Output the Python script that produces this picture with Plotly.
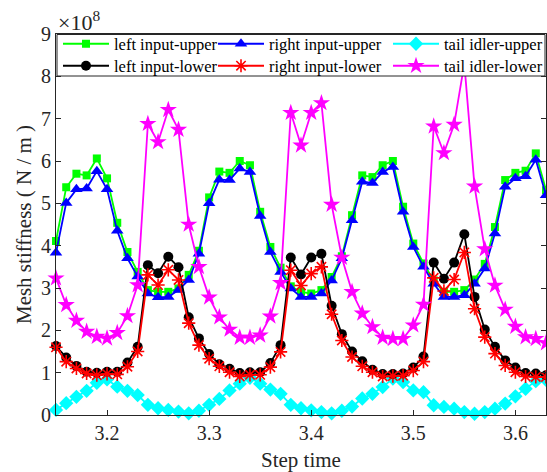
import plotly.graph_objects as go

# Step time (s)
step_time = [3.15, 3.16, 3.17, 3.18, 3.19, 3.20, 3.21, 3.22, 3.23, 3.24,
             3.25, 3.26, 3.27, 3.28, 3.29, 3.30, 3.31, 3.32, 3.33, 3.34,
             3.35, 3.36, 3.37, 3.38, 3.39, 3.40, 3.41, 3.42, 3.43, 3.44,
             3.45, 3.46, 3.47, 3.48, 3.49, 3.50, 3.51, 3.52, 3.53, 3.54,
             3.55, 3.56, 3.57, 3.58, 3.59, 3.60, 3.61, 3.62, 3.63]

# Mesh stiffness in units of 1e8 N/m
left_input_upper = [4.11, 5.38, 5.70, 5.66, 6.06, 5.59, 4.54, 3.85, 3.38, 2.95,
                    2.91, 2.91, 2.99, 3.31, 3.88, 5.14, 5.75, 5.72, 6.00, 5.90,
                    4.80, 3.97, 3.48, 3.04, 2.91, 2.87, 2.95, 3.26, 3.75, 4.72,
                    5.66, 5.62, 5.90, 6.00, 4.92, 4.05, 3.58, 3.18, 2.91, 2.91,
                    2.95, 3.20, 3.57, 4.44, 5.55, 5.72, 5.77, 6.18, 5.31]
right_input_upper = [3.83, 5.01, 5.33, 5.35, 5.76, 5.33, 4.35, 3.70, 3.27, 2.87,
                     2.78, 2.79, 2.95, 3.19, 3.81, 5.00, 5.56, 5.55, 5.82, 5.74,
                     4.70, 3.85, 3.38, 2.99, 2.79, 2.79, 2.87, 3.18, 3.70, 4.60,
                     5.51, 5.48, 5.74, 5.86, 4.80, 3.97, 3.50, 3.10, 2.79, 2.79,
                     2.83, 3.10, 3.46, 4.29, 5.39, 5.59, 5.64, 6.03, 5.19]
tail_idler_upper = [0.12, 0.28, 0.43, 0.57, 0.76, 0.84, 0.67, 0.57, 0.47, 0.24,
                    0.16, 0.12, 0.08, 0.04, 0.10, 0.24, 0.38, 0.58, 0.74, 0.88,
                    0.74, 0.60, 0.50, 0.24, 0.16, 0.11, 0.07, 0.04, 0.10, 0.20,
                    0.39, 0.50, 0.66, 0.86, 0.78, 0.58, 0.54, 0.23, 0.19, 0.15,
                    0.07, 0.03, 0.07, 0.15, 0.27, 0.44, 0.62, 0.80, 0.83]
left_input_lower = [1.63, 1.36, 1.16, 1.02, 1.00, 1.02, 1.02, 1.24, 1.61, 3.54,
                    3.35, 3.74, 3.49, 2.31, 1.81, 1.44, 1.20, 1.09, 0.99, 1.01,
                    1.01, 1.23, 1.65, 3.72, 3.32, 3.72, 3.81, 2.58, 1.91, 1.50,
                    1.27, 1.07, 0.97, 0.97, 0.98, 1.12, 1.38, 3.60, 3.22, 3.60,
                    4.27, 2.79, 2.02, 1.61, 1.29, 1.12, 0.99, 0.98, 0.94]
right_input_lower = [1.60, 1.26, 1.10, 0.98, 0.94, 0.97, 0.96, 1.14, 1.50, 3.31,
                     3.07, 3.43, 3.19, 2.17, 1.65, 1.33, 1.15, 1.01, 0.91, 0.95,
                     0.95, 1.13, 1.49, 3.42, 3.06, 3.34, 3.50, 2.38, 1.76, 1.37,
                     1.15, 1.01, 0.91, 0.92, 0.93, 1.05, 1.26, 3.24, 2.93, 3.20,
                     3.84, 2.51, 1.84, 1.45, 1.17, 1.01, 0.91, 0.90, 0.90]
tail_idler_lower = [3.23, 2.60, 2.23, 1.97, 1.85, 1.81, 1.94, 2.34, 3.07, 6.88,
                    6.45, 7.21, 6.74, 4.50, 3.50, 2.78, 2.31, 2.02, 1.83, 1.83,
                    1.88, 2.33, 3.12, 7.14, 6.37, 7.14, 7.37, 4.97, 3.72, 2.91,
                    2.40, 2.08, 1.83, 1.80, 1.80, 2.12, 2.61, 6.82, 6.19, 6.86,
                    8.30, 5.40, 3.92, 3.06, 2.49, 2.09, 1.84, 1.80, 1.70]

y_ticks = [0, 1, 2, 3, 4, 5, 6, 7, 8, 9]
x_ticks = [3.2, 3.3, 3.4, 3.5, 3.6]

FONT = "Liberation Serif, Times New Roman, serif"

# figure geometry (pixels)
W, H = 547, 472
ML, MR, MT, MB = 56, 1, 34, 57
PW, PH = W - ML - MR, H - MT - MB


def px_to_paper_x(px):
    return (px - ML) / PW


def px_to_paper_y(py):
    return (H - MB - py) / PH


# legend layout: column left edges and row centres in pixels
col_px = [58, 213, 388]
row_px = [44, 66]

series = [
    ("left input-upper", left_input_upper, "#00FF00", "square", 8, None, 0, 0),
    ("right input-upper", right_input_upper, "#0000FF", "triangle-up", 11, None, 1, 0),
    ("tail idler-upper", tail_idler_upper, "#00FFFF", "diamond", 11, None, 2, 0),
    ("left input-lower", left_input_lower, "#000000", "circle", 10, None, 0, 1),
    ("right input-lower", right_input_lower, "#FF0000", "asterisk-open", 11, 1.6, 1, 1),
    ("tail idler-lower", tail_idler_lower, "#FF00FF", "star", 13, None, 2, 1),
]

fig = go.Figure()
legend_layouts = {}
for k, (name, vals, color, sym, size, lw, col, row) in enumerate(series):
    marker = dict(symbol=sym, size=size, color=color)
    if lw is not None:
        marker["line"] = dict(color=color, width=lw)
    else:
        marker["line"] = dict(width=0)
    lname = "legend" if k == 0 else f"legend{k + 1}"
    fig.add_trace(go.Scatter(
        x=step_time, y=vals, name=name, mode="lines+markers",
        line=dict(color=color, width=1.8), marker=marker, cliponaxis=False,
        legend=lname,
    ))
    legend_layouts[lname] = dict(
        orientation="h",
        x=px_to_paper_x(col_px[col]), y=px_to_paper_y(row_px[row]),
        xanchor="left", yanchor="middle",
        bgcolor="rgba(0,0,0,0)", borderwidth=0,
        font=dict(family=FONT, size=16.5, color="#000000"),
        itemwidth=46,
    )

axis_common = dict(
    showline=True, linecolor="#262626", linewidth=1, mirror="ticks",
    ticks="inside", ticklen=5, tickcolor="#262626", tickwidth=1,
    showgrid=False, zeroline=False,
    tickfont=dict(family=FONT, size=20, color="#262626"),
)

fig.update_layout(
    width=W, height=H,
    margin=dict(l=ML, r=MR, t=MT, b=MB, autoexpand=False),
    paper_bgcolor="white", plot_bgcolor="white",
    font=dict(family=FONT, color="#262626"),
    showlegend=True,
    xaxis=dict(range=[3.15, 3.63], tickvals=x_ticks,
               ticktext=[f"{v:.1f}" for v in x_ticks],
               title=dict(text="Step time", font=dict(family=FONT, size=21, color="#262626"), standoff=9),
               **axis_common),
    yaxis=dict(range=[0, 9], tickvals=y_ticks,
               ticktext=[str(v) for v in y_ticks],
               title=dict(text="Mesh stiffness ( N / m )", font=dict(family=FONT, size=21, color="#262626"), standoff=3),
               **axis_common),
    shapes=[dict(
        type="rect", xref="paper", yref="paper", layer="above",
        x0=px_to_paper_x(57), x1=px_to_paper_x(545),
        y0=px_to_paper_y(76), y1=px_to_paper_y(34.5),
        fillcolor="white", line=dict(color="#262626", width=1),
    )],
    annotations=[dict(
        text="×10<sup>8</sup>", xref="paper", yref="paper", x=0, y=1,
        xanchor="left", yanchor="bottom", showarrow=False, yshift=-3,
        font=dict(family=FONT, size=22, color="#262626"),
    )],
    **legend_layouts,
)

fig.write_html("out.html")
